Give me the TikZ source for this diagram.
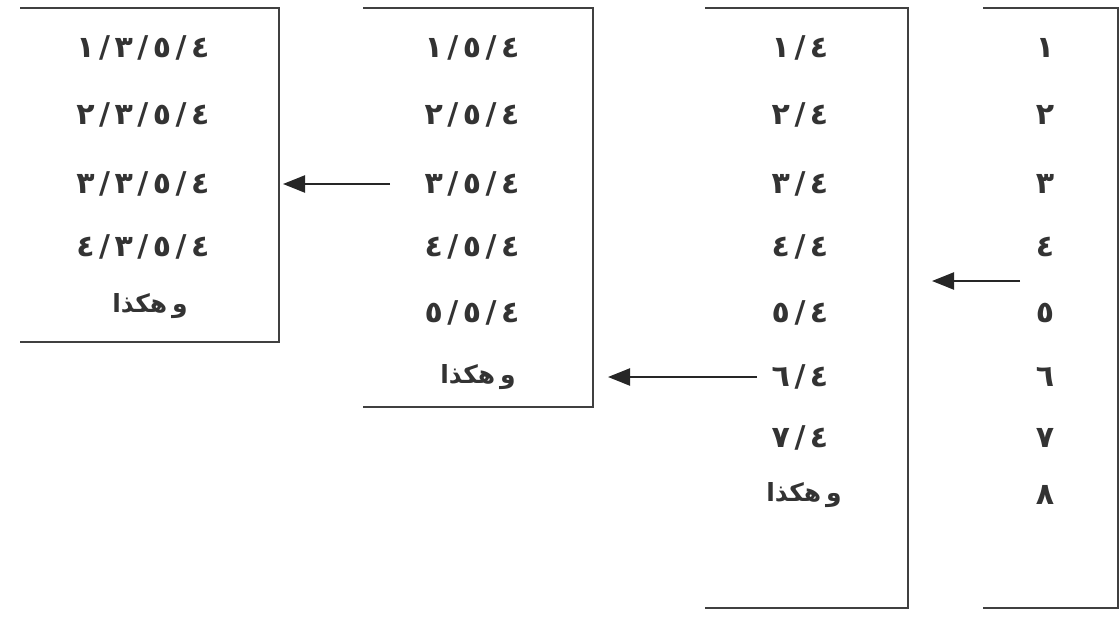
\documentclass[tikz,border=0pt]{standalone}
\usepackage{fontspec}
\usetikzlibrary{arrows.meta}
\TeXXeTstate=1
\newfontfamily\arabicfont[Script=Arabic]{DejaVu Sans}
\newfontfamily\digitfont{DejaVu Sans}
\newcommand\sep{\kern4.5pt/\kern4.5pt}
\newcommand\wahakadha{{\arabicfont\bfseries\fontsize{25}{30}\selectfont\beginR و\kern5pt هكذا\endR}}
\tikzset{
  frame/.style={line width=2.5pt, draw=black!75},
  cell/.style={font=\digitfont\bfseries\fontsize{30}{32}\selectfont, text=black!80, inner sep=0pt, anchor=center},
  arr/.style={line width=2.3pt, draw=black!85, -{Triangle[length=22pt,width=17pt]}},
}
\begin{document}
\begin{tikzpicture}[x=1pt,y=-1pt]
\useasboundingbox (0,0) rectangle (1119,616);
% frames
\draw[frame] (20,8) -| (279,342) -- (20,342);
\draw[frame] (363,8) -| (593,407) -- (363,407);
\draw[frame] (705,8) -| (908,608) -- (705,608);
\draw[frame] (983,8) -| (1118,608) -- (983,608);
% box 1
\node[cell] (a1) at (143,48) {١\sep٣\sep٥\sep٤};
\node[cell] (a2) at (143,115) {٢\sep٣\sep٥\sep٤};
\node[cell] (a3) at (143,184) {٣\sep٣\sep٥\sep٤};
\node[cell] (a4) at (143,247) {٤\sep٣\sep٥\sep٤};
\node[cell] (a5) at (150,306) {\wahakadha};
% box 2
\node[cell] (b1) at (472,48) {١\sep٥\sep٤};
\node[cell] (b2) at (472,115) {٢\sep٥\sep٤};
\node[cell] (b3) at (472,184) {٣\sep٥\sep٤};
\node[cell] (b4) at (472,247) {٤\sep٥\sep٤};
\node[cell] (b5) at (472,313) {٥\sep٥\sep٤};
\node[cell] (b6) at (478,377) {\wahakadha};
% box 3
\node[cell] (c1) at (800,48) {١\sep٤};
\node[cell] (c2) at (800,115) {٢\sep٤};
\node[cell] (c3) at (800,184) {٣\sep٤};
\node[cell] (c4) at (800,247) {٤\sep٤};
\node[cell] (c5) at (800,313) {٥\sep٤};
\node[cell] (c6) at (800,377) {٦\sep٤};
\node[cell] (c7) at (800,438) {٧\sep٤};
\node[cell] (c8) at (804,495) {\wahakadha};
% box 4
\node[cell] (d1) at (1045,48) {١};
\node[cell] (d2) at (1045,115) {٢};
\node[cell] (d3) at (1045,184) {٣};
\node[cell] (d4) at (1045,247) {٤};
\node[cell] (d5) at (1045,313) {٥};
\node[cell] (d6) at (1045,377) {٦};
\node[cell] (d7) at (1045,438) {٧};
\node[cell] (d8) at (1045,495) {٨};
% arrow ends
\coordinate (s1) at (390,184);
\coordinate (t1) at (283,184);
\coordinate (s2) at (757,377);
\coordinate (t2) at (608,377);
\coordinate (s3) at (1020,281);
\coordinate (t3) at (932,281);
% arrows
\draw[arr] (s1) -- (t1);
\draw[arr] (s2) -- (t2);
\draw[arr] (s3) -- (t3);
\end{tikzpicture}
\end{document}
